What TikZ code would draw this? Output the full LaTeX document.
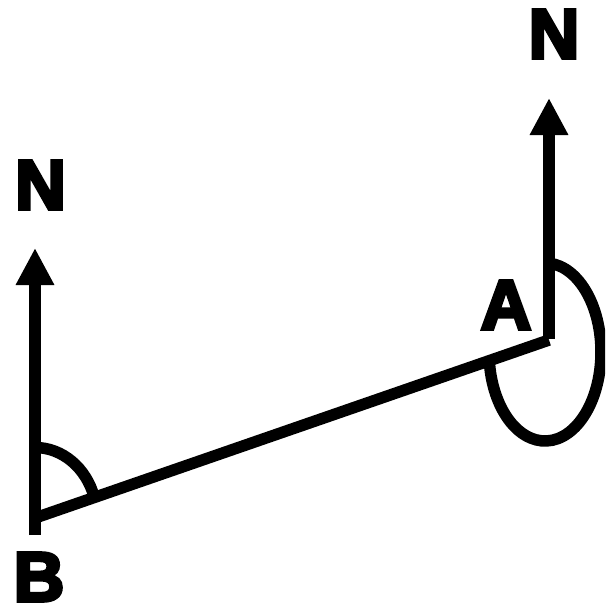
\documentclass[tikz,border=0pt]{standalone}
\usepackage{fontspec}
\newfontfamily\heavy{Liberation Sans}[BoldFeatures={FakeBold=5}]
\usetikzlibrary{arrows.meta}
\tikzset{
  stroke/.style={line width=11.5pt, line cap=butt, draw=black},
  north/.style={stroke, -{Triangle[width=36pt,length=37pt]}},
  lbl/.style={inner sep=0pt, anchor=center, font=\heavy\bfseries\fontsize{70}{80}\selectfont}
}
\begin{document}
\begin{tikzpicture}[x=1pt,y=-1pt]
\path[use as bounding box, clip] (0,0) rectangle (605,607);
\coordinate (B) at (35,518);
\coordinate (A) at (549,340);
\coordinate (Bbot) at (35,535);
\coordinate (Ntip1) at (35,248);
\coordinate (Abot) at (549,339);
\coordinate (Ntip2) at (549,98);
\coordinate (Barc) at (35,447.5);
\coordinate (Aarc) at (548.9,263.2);
\node[lbl] (n1) at (40.5,185) {N};
\node[lbl] (n2) at (554,34) {N};
\node[lbl] (la) at (506,305) {A};
\node[lbl] (lb) at (39,577) {B};
\draw[north] (Bbot) -- (Ntip1);
\draw[north] (Abot) -- (Ntip2);
\draw[stroke] (B) -- (A);
\draw[stroke] (Barc) arc[start angle=-90, end angle=-17, x radius=62, y radius=70.5];
\draw[stroke] (Aarc) arc[start angle=-86, end angle=174, x radius=56, y radius=89];
\end{tikzpicture}
\end{document}
